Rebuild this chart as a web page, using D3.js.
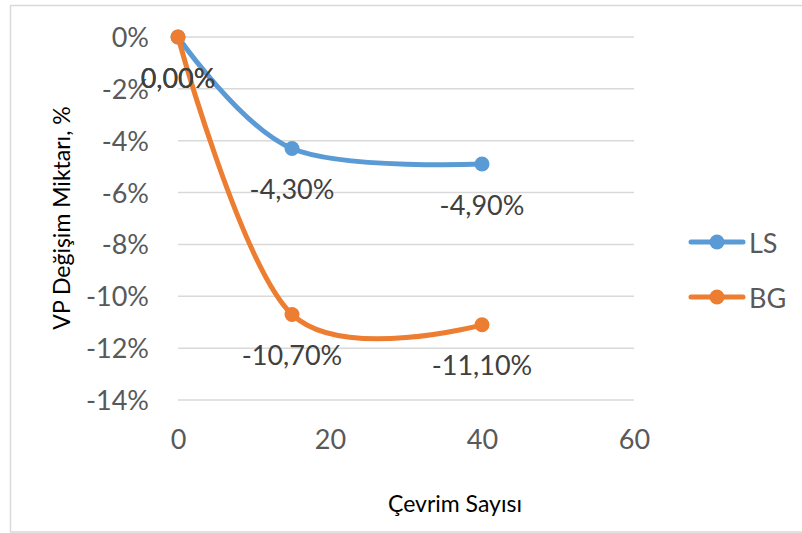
<!DOCTYPE html>
<html><head><meta charset="utf-8">
<script src="https://cdn.jsdelivr.net/npm/d3@7"></script>
<style>body{margin:0;background:#fff}svg{display:block}</style>
</head><body>
<svg id="c" width="802" height="533"></svg>
<script>
const cycles = [0, 15, 40];
const seriesNames = ["LS", "BG"];
const lsValues = [0, -4.3, -4.9];
const bgValues = [0, -10.7, -11.1];
const seriesColors = ["#5B9BD5", "#ED7D31"];
const xTicks = [0, 20, 40, 60];
const yTicks = [0, -2, -4, -6, -8, -10, -12, -14];
const xTitle = "Çevrim Sayısı";
const yTitle = "VP Değişim Miktarı, %";

const series = [
  {name: seriesNames[0], values: lsValues, color: seriesColors[0]},
  {name: seriesNames[1], values: bgValues, color: seriesColors[1]}
];

const svg = d3.select("#c");
const font = "Lato, 'Open Sans', sans-serif";
svg.append("rect").attr("x", 10.5).attr("y", 5.5).attr("width", 800).attr("height", 526.5)
  .attr("fill", "#fff").attr("stroke", "#d9d9d9").attr("stroke-width", 1.5);

const x = d3.scaleLinear().domain([0, 60]).range([178, 634]);
const y = d3.scaleLinear().domain([0, -14]).range([37, 400]);

// gridlines
svg.append("g").selectAll("line").data(yTicks).join("line")
  .attr("x1", x(0)).attr("x2", x(60))
  .attr("y1", d => y(d)).attr("y2", d => y(d))
  .attr("stroke", "#d9d9d9").attr("stroke-width", 1.5);

// y axis
const yAxis = d3.axisLeft(y).tickValues(yTicks).tickFormat(d => (d === 0 ? "0" : d3.format(".0f")(d).replace("−", "-")) + "%").tickSize(0).tickPadding(0);
const gy = svg.append("g").attr("transform", "translate(149,0)").call(yAxis);
gy.select(".domain").remove();
gy.selectAll("text").attr("font-family", font).attr("font-size", 27).attr("fill", "#595959").attr("dy", "0.35em");

// x axis
const xAxis = d3.axisBottom(x).tickValues(xTicks).tickFormat(d3.format("d")).tickSize(0).tickPadding(0);
const gx = svg.append("g").attr("transform", "translate(0,430)").call(xAxis);
gx.select(".domain").remove();
gx.selectAll("text").attr("font-family", font).attr("font-size", 27).attr("fill", "#595959").attr("dy", "0.71em");

// titles
svg.append("text").attr("x", 455).attr("y", 503).attr("text-anchor", "middle").attr("dominant-baseline", "central")
  .attr("font-family", font).attr("font-size", 23).attr("fill", "#000").text(xTitle);
svg.append("text").attr("transform", "translate(61,218) rotate(-90)").attr("text-anchor", "middle").attr("dominant-baseline", "central")
  .attr("font-family", font).attr("font-size", 23).attr("fill", "#000").text(yTitle);

const line = d3.line().x((d, i) => x(cycles[i])).y(d => y(d)).curve(d3.curveCardinal.tension(0));

const gS = svg.append("g");
series.forEach(s => {
  gS.append("path").attr("d", line(s.values)).attr("fill", "none")
    .attr("stroke", s.color).attr("stroke-width", 5).attr("stroke-linecap", "round");
});
series.forEach(s => {
  gS.append("g").selectAll("circle").data(s.values).join("circle")
    .attr("cx", (d, i) => x(cycles[i])).attr("cy", d => y(d)).attr("r", 7.5).attr("fill", s.color);
});
// data labels
const fmtLbl = d => d3.format(".2f")(d).replace("−", "-").replace(".", ",") + "%";
series.forEach(s => {
  gS.append("g").selectAll("text").data(s.values).join("text")
    .attr("x", (d, i) => x(cycles[i])).attr("y", d => y(d) + 40)
    .attr("text-anchor", "middle").attr("dominant-baseline", "central")
    .attr("font-family", font).attr("font-size", 27).attr("fill", "#404040")
    .text(d => fmtLbl(d === 0 ? 0 : d));
});

// legend
const lg = svg.append("g");
series.forEach((s, i) => {
  const ly = 242 + i * 55;
  lg.append("line").attr("x1", 691).attr("x2", 743).attr("y1", ly).attr("y2", ly)
    .attr("stroke", s.color).attr("stroke-width", 5).attr("stroke-linecap", "round");
  lg.append("circle").attr("cx", 717).attr("cy", ly).attr("r", 7.5).attr("fill", s.color);
  lg.append("text").attr("x", 749).attr("y", ly).attr("dominant-baseline", "central")
    .attr("font-family", font).attr("font-size", 27).attr("fill", "#595959").text(s.name);
});
</script>
</body></html>
